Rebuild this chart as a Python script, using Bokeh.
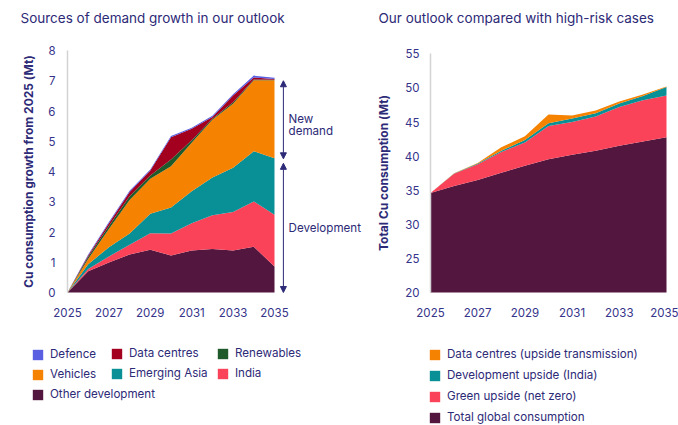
from bokeh.plotting import figure
from bokeh.layouts import row
from bokeh.models import (ColumnDataSource, Legend, LegendItem, Label, Arrow,
                          NormalHead, Range1d, FixedTicker, LinearAxis)
from bokeh.transform import stack
from bokeh.embed import file_html
from bokeh.resources import INLINE

# ---------------- data ----------------
years = [2025, 2026, 2027, 2028, 2029, 2030, 2031, 2032, 2033, 2034, 2035]

# Left chart: growth contributions (Mt), stacked bottom -> top
other_development = [0, 0.70, 0.99, 1.26, 1.41, 1.22, 1.39, 1.44, 1.39, 1.51, 0.86]
india             = [0, 0.08, 0.20, 0.32, 0.55, 0.73, 0.90, 1.11, 1.27, 1.50, 1.71]
emerging_asia     = [0, 0.15, 0.31, 0.37, 0.64, 0.86, 1.06, 1.25, 1.46, 1.66, 1.87]
vehicles          = [0, 0.18, 0.60, 1.11, 1.16, 1.36, 1.60, 1.91, 2.12, 2.35, 2.58]
renewables        = [0, 0.07, 0.10, 0.12, 0.11, 0.23, 0.08, 0.03, 0.05, 0.02, 0.01]
data_centres      = [0, 0.04, 0.09, 0.14, 0.16, 0.73, 0.38, 0.06, 0.22, 0.07, 0.03]
defence           = [0, 0.04, 0.04, 0.04, 0.04, 0.04, 0.04, 0.04, 0.04, 0.06, 0.04]

# Right chart: total consumption and upside cases (Mt), stacked
total_global = [34.6, 35.6, 36.5, 37.55, 38.6, 39.55, 40.2, 40.8, 41.5, 42.15, 42.75]
green_upside = [0, 1.80, 2.30, 3.05, 3.40, 4.85, 4.80, 5.00, 5.70, 6.05, 6.15]
dev_upside   = [0, 0.05, 0.10, 0.20, 0.35, 0.40, 0.50, 0.50, 0.50, 0.60, 1.25]
dc_upside    = [0, 0.05, 0.10, 0.50, 0.55, 1.30, 0.45, 0.40, 0.30, 0.25, 0.05]

left_names = ["Other development", "India", "Emerging Asia", "Vehicles",
              "Renewables", "Data centres", "Defence"]
left_colors = ["#52163f", "#fa4259", "#089096", "#f58200",
               "#1f5a2b", "#a3001f", "#5a5ee0"]
right_names = ["Total global consumption", "Green upside (net zero)",
               "Development upside (India)", "Data centres (upside transmission)"]
right_colors = ["#52163f", "#fa4259", "#089096", "#f58200"]

x_ticks = [2025, 2027, 2029, 2031, 2033, 2035]
left_y_ticks = [0, 1, 2, 3, 4, 5, 6, 7, 8]
right_y_ticks = [20, 25, 30, 35, 40, 45, 50, 55]
left_y_min, left_y_max = 0, 8
right_y_min, right_y_max = 20, 55
x_min, x_max = 2025, 2035

FONT = "Inter"
NAVY = "#2d2a77"
TICK = "#35338a"
AXIS = "#d3d3d3"

# ---------------- helpers ----------------
def make_fig(width, xr, yr):
    p = figure(width=width, height=425, x_range=Range1d(*xr), y_range=Range1d(*yr),
               output_backend="svg", toolbar_location=None,
               x_axis_location=None, y_axis_location=None,
               min_border=0, min_border_left=0, min_border_right=0,
               min_border_top=0, min_border_bottom=0)
    p.outline_line_color = None
    for g in p.grid:
        g.visible = False
    return p


def add_axes(p, ymin, ymax, yticks, ylabel, ystand, lstand):
    xa = LinearAxis(fixed_location=ymin, bounds=(x_min, x_max),
                    ticker=FixedTicker(ticks=x_ticks))
    ya = LinearAxis(fixed_location=x_min, bounds=(ymin, ymax),
                    ticker=FixedTicker(ticks=yticks), axis_label=ylabel)
    for ax in (xa, ya):
        ax.major_tick_line_color = None
        ax.minor_tick_line_color = None
        ax.major_tick_out = 0
        ax.major_tick_in = 0
        ax.minor_tick_out = 0
        ax.minor_tick_in = 0
        ax.major_label_text_font = FONT
        ax.major_label_text_font_size = "11.5px"
        ax.major_label_text_color = TICK
        ax.axis_label_text_font = FONT
        ax.axis_label_text_font_size = "12px"
        ax.axis_label_text_font_style = "bold"
        ax.axis_label_text_color = NAVY
    xa.axis_line_color = None
    ya.axis_line_color = AXIS
    ya.axis_line_width = 1.5
    xa.major_label_standoff = 15
    ya.major_label_standoff = ystand
    ya.axis_label_standoff = lstand
    p.add_layout(xa, "below")
    p.add_layout(ya, "left")


def legend(p, items, x, y, spacing=6):
    lg = Legend(items=items, location=(x, y), orientation="vertical",
                glyph_width=13, glyph_height=13, label_height=13, label_width=10,
                spacing=spacing, padding=0, margin=0, label_standoff=6,
                label_text_font=FONT, label_text_font_size="11.6px",
                label_text_color=NAVY, background_fill_alpha=0,
                border_line_alpha=0)
    p.add_layout(lg, "center")

# ---------------- left chart ----------------
# frame = whole canvas: 2025 -> x 67px, 20.7 px/year; 0 Mt -> y 292px, 30.25 px/Mt
W1 = 372
p1 = make_fig(W1, (2025 - 67 / 20.7, 2025 + (W1 - 67) / 20.7),
              (-133 / 30.25, 292 / 30.25))
add_axes(p1, left_y_min, left_y_max, left_y_ticks,
         "Cu consumption growth from 2025 (Mt)", 12, 9)
lsrc = ColumnDataSource(dict(year=years, other=other_development, india=india,
                             easia=emerging_asia, veh=vehicles, ren=renewables,
                             dc=data_centres, dfn=defence))
lr = p1.varea_stack(["other", "india", "easia", "veh", "ren", "dc", "dfn"], x="year",
                    color=left_colors, source=lsrc)
rmap = dict(zip(left_names, lr))

p1.add_layout(Label(x=x_min, y=left_y_max, x_offset=-47, y_offset=33,
                    text="Sources of demand growth in our outlook", text_font=FONT,
                    text_font_size="13.5px", text_color=NAVY, text_baseline="middle"))

XA = 2035.43
for (ys, ye) in [(7.0, 4.42), (4.27, 0.0)]:
    p1.add_layout(Arrow(start=NormalHead(size=6, fill_color=NAVY, line_color=NAVY),
                        end=NormalHead(size=6, fill_color=NAVY, line_color=NAVY),
                        x_start=XA, y_start=ys, x_end=XA, y_end=ye,
                        line_color=NAVY, line_width=1))
for txt, yy in [("New", 5.75), ("demand", 5.33), ("Development", 2.12)]:
    p1.add_layout(Label(x=2035.68, y=yy, text=txt, text_font=FONT,
                        text_font_size="11.6px", text_color=NAVY,
                        text_baseline="middle"))

legend(p1, [LegendItem(label="Defence", renderers=[rmap["Defence"]]),
            LegendItem(label="Vehicles", renderers=[rmap["Vehicles"]]),
            LegendItem(label="Other development", renderers=[rmap["Other development"]])],
       31, 24)
legend(p1, [LegendItem(label="Data centres", renderers=[rmap["Data centres"]]),
            LegendItem(label="Emerging Asia", renderers=[rmap["Emerging Asia"]])],
       110, 45)
legend(p1, [LegendItem(label="Renewables", renderers=[rmap["Renewables"]]),
            LegendItem(label="India", renderers=[rmap["India"]])],
       216, 45)

# ---------------- right chart ----------------
# 2025 -> x 430px (page), 23.6 px/year; 20 Mt -> y 292px, 6.82 px/Mt
W2 = 678 - W1
p2 = make_fig(W2, (2025 - (430 - W1) / 23.6, 2025 + 248 / 23.6),
              (20 - 133 / 6.82, 20 + 292 / 6.82))
add_axes(p2, right_y_min, right_y_max, right_y_ticks, "Total Cu consumption (Mt)",
         11, 11)
rsrc = ColumnDataSource(dict(year=years, tot=total_global, green=green_upside,
                             dev=dev_upside, dcu=dc_upside))
layers = ["tot", "green", "dev", "dcu"]
rr = []
for i, col in enumerate(layers):
    lower = right_y_min if i == 0 else stack(*layers[:i])
    rr.append(p2.varea(x="year", y1=lower, y2=stack(*layers[:i + 1]),
                       color=right_colors[i], source=rsrc))
p2.add_layout(Label(x=x_min, y=right_y_max, x_offset=-52, y_offset=36,
                    text="Our outlook compared with high-risk cases", text_font=FONT,
                    text_font_size="13.5px", text_color=NAVY, text_baseline="middle"))
legend(p2, [LegendItem(label=right_names[3], renderers=[rr[3]]),
            LegendItem(label=right_names[2], renderers=[rr[2]]),
            LegendItem(label=right_names[1], renderers=[rr[1]]),
            LegendItem(label=right_names[0], renderers=[rr[0]])],
       428 - W1, 1, spacing=7)

layout = row(p1, p2, spacing=0)
open("out.html", "w").write(file_html(layout, INLINE))
